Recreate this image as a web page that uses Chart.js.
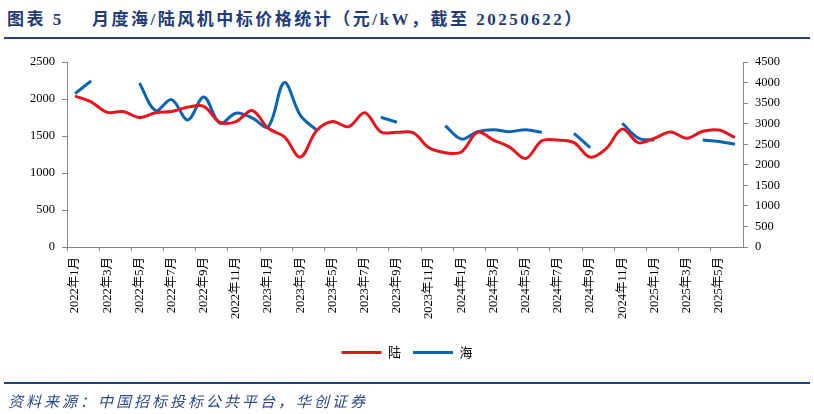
<!DOCTYPE html>
<html>
<head>
<meta charset="utf-8">
<script src="https://cdn.jsdelivr.net/npm/chart.js@4.4.1/dist/chart.umd.min.js"></script>
<style>
  html, body { margin: 0; padding: 0; background: #fff; }
  #wrap { position: relative; width: 814px; height: 414px; overflow: hidden; }
  .title { position: absolute; top: 5px; font: bold 17px "Liberation Serif", "Noto Sans CJK SC"; color: #1f3c78; white-space: pre; letter-spacing: 2.5px; }
  #topLine { position: absolute; left: 4px; right: 4px; top: 37px; height: 2px; background: #1f4282; }
  #bottomLine { position: absolute; left: 4px; right: 4px; top: 382px; height: 2px; background: #1f4282; }
  #source { position: absolute; left: 8px; top: 390px; font: italic 15px "Liberation Serif", "Noto Sans CJK SC"; letter-spacing: 3px; color: #2a4a8a; }
  #box { position: absolute; left: 0; top: 0; width: 814px; height: 414px; }
</style>
</head>
<body>
<div id="wrap">
  <div class="title" style="left:7px">图表 5</div>
  <div class="title" style="left:92px">月度海/陆风机中标价格统计（元/kW，截至 20250622）</div>
  <div id="topLine"></div>
  <div id="box"><canvas id="priceChart"></canvas></div>
  <div id="bottomLine"></div>
  <div id="source">资料来源：中国招标投标公共平台，华创证券</div>
</div>
<script>
// 月份（2022年1月 - 2025年6月）
const years = [2022, 2023, 2024, 2025];
const months = [];
years.forEach(y => {
    for (let m = 1; m <= 12; m++) {
        if (y === 2025 && m > 6) break;
        months.push(y + '年' + m + '月');
    }
});

// 陆上风机中标均价（元/kW，左轴）
const landPrice = [2040, 1960, 1820, 1830, 1750, 1815, 1830, 1890, 1900, 1685, 1695, 1845,
                   1605, 1490, 1215, 1570, 1695, 1625, 1815, 1555, 1550, 1545, 1340, 1275,
                   1285, 1550, 1445, 1350, 1195, 1435, 1445, 1410, 1215, 1330, 1595, 1410,
                   1470, 1555, 1470, 1565, 1580, 1480];

// 海上风机中标均价（元/kW，右轴），无数据月份为 null
const seaPrice = [3730, 4040, null, null, 3990, 3320, 3585, 3090, 3650, 3010, 3255, 3140,
                  2925, 4000, 3200, 2845, null, null, null, 3155, 3035, null, null, 2950,
                  2625, 2805, 2855, 2805, 2855, 2790, null, 2765, 2420, null, 3010, 2650,
                  2600, null, null, 2600, 2565, 2500];

// 坐标轴刻度
const leftTicks = { min: 0, max: 2500, step: 500 };
const rightTicks = { min: 0, max: 4500, step: 500 };

const axisColor = '#868686';
const tickFont = { family: '"Liberation Serif", "Noto Sans CJK SC"', size: 12.5 };

new Chart(document.getElementById('priceChart'), {
    type: 'line',
    data: {
        labels: months,
        datasets: [
            { label: '陆', data: landPrice, yAxisID: 'yL', borderColor: '#e8141d', backgroundColor: '#e8141d',
              borderWidth: 3, pointRadius: 0, tension: 0.35, spanGaps: false },
            { label: '海', data: seaPrice, yAxisID: 'yR', borderColor: '#0a64b4', backgroundColor: '#0a64b4',
              borderWidth: 3, pointRadius: 0, tension: 0.35, spanGaps: false }
        ]
    },
    options: {
        responsive: true,
        maintainAspectRatio: false,
        animation: false,
        layout: { padding: { top: 62, left: 0, right: 0, bottom: 45 } },
        plugins: {
            legend: {
                position: 'bottom',
                labels: {
                    usePointStyle: true, pointStyle: 'line', pointStyleWidth: 40, boxHeight: 12,
                    padding: 12, color: '#000',
                    font: { family: '"Noto Sans CJK SC"', size: 13 }
                }
            },
            tooltip: { enabled: false }
        },
        scales: {
            x: {
                offset: true,
                grid: {
                    offset: true, drawOnChartArea: false, drawTicks: true, tickLength: 4,
                    color: ctx => (ctx.index % 2 === 0 ? axisColor : 'rgba(0,0,0,0)')
                },
                border: { display: true, color: axisColor, width: 1 },
                ticks: {
                    autoSkip: false, maxRotation: 90, minRotation: 90, padding: 6, color: '#000', font: tickFont,
                    callback: function(v, i) { return i % 2 === 0 ? this.getLabelForValue(v) : ''; }
                },
                afterFit: s => { s.height = 87; }
            },
            yL: {
                position: 'left',
                min: leftTicks.min, max: leftTicks.max,
                grid: { drawOnChartArea: false, drawTicks: true, tickLength: 5, color: axisColor },
                border: { display: true, color: axisColor, width: 1 },
                ticks: { stepSize: leftTicks.step, padding: 7, color: '#000', font: tickFont, callback: v => String(v) },
                afterFit: s => { s.width = 67; }
            },
            yR: {
                position: 'right',
                min: rightTicks.min, max: rightTicks.max,
                grid: { drawOnChartArea: false, drawTicks: true, tickLength: 5, color: axisColor },
                border: { display: true, color: axisColor, width: 1 },
                ticks: { stepSize: rightTicks.step, padding: 7, color: '#000', font: tickFont, callback: v => String(v) },
                afterFit: s => { s.width = 71; }
            }
        }
    }
});
</script>
</body>
</html>
